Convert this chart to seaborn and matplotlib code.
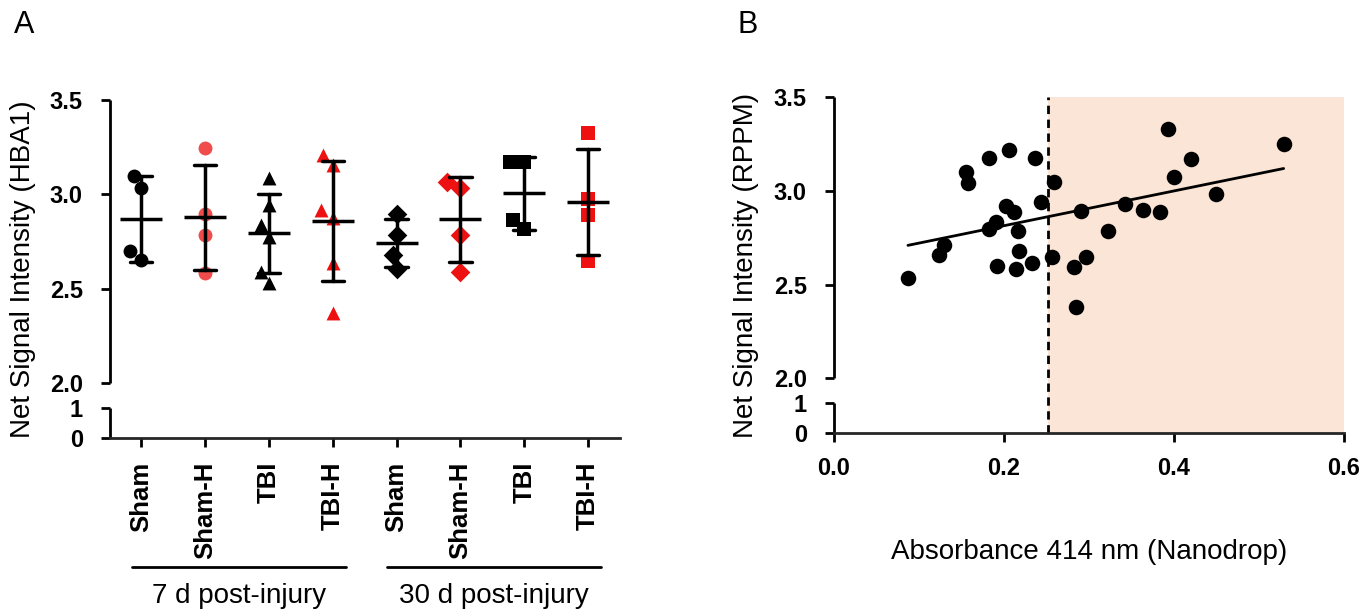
import numpy as np
import pandas as pd
import matplotlib
matplotlib.use("Agg")
import matplotlib.pyplot as plt
import seaborn as sns

sns.set_theme(style="ticks")
plt.rcParams["font.family"] = ["Liberation Sans", "DejaVu Sans"]
plt.rcParams["text.color"] = "black"
plt.rcParams["axes.labelcolor"] = "black"
plt.rcParams["xtick.color"] = "black"
plt.rcParams["ytick.color"] = "black"

# -------------------------
# Panel A data
# -------------------------
groups = ["Sham 7d", "Sham-H 7d", "TBI 7d", "TBI-H 7d",
          "Sham 30d", "Sham-H 30d", "TBI 30d", "TBI-H 30d"]
group_labels = ["Sham", "Sham-H", "TBI", "TBI-H", "Sham", "Sham-H", "TBI", "TBI-H"]
sham_7 = [3.096, 3.033, 2.698, 2.653]
shamh_7 = [3.248, 2.897, 2.786, 2.581]
tbi_7 = [3.089, 2.941, 2.835, 2.773, 2.590, 2.528]
tbih_7 = [3.207, 3.154, 2.919, 2.874, 2.635, 2.369]
sham_30 = [2.897, 2.782, 2.676, 2.605]
shamh_30 = [3.066, 3.036, 2.782, 2.587]
tbi_30 = [3.172, 3.172, 2.862, 2.817]
tbih_30 = [3.323, 2.977, 2.888, 2.649]
timepoints = ["7 d post-injury", "30 d post-injury"]

# -------------------------
# Panel B data
# -------------------------
absorbance = [0.087, 0.124, 0.129, 0.155, 0.158, 0.182, 0.206, 0.236, 0.259, 0.244,
              0.202, 0.212, 0.190, 0.182, 0.216, 0.218, 0.192, 0.214, 0.233, 0.256,
              0.282, 0.296, 0.285, 0.291, 0.322, 0.342, 0.364, 0.384, 0.393, 0.400,
              0.420, 0.449, 0.529]
rppm = [2.536, 2.659, 2.709, 3.098, 3.039, 3.173, 3.217, 3.173, 3.048, 2.942,
        2.920, 2.885, 2.833, 2.797, 2.788, 2.677, 2.597, 2.585, 2.615, 2.647,
        2.594, 2.647, 2.382, 2.894, 2.783, 2.929, 2.899, 2.886, 3.327, 3.076,
        3.168, 2.983, 3.251]
threshold = 0.252

values = [sham_7, shamh_7, tbi_7, tbih_7, sham_30, shamh_30, tbi_30, tbih_30]
df_a = pd.DataFrame({
    "group": np.repeat(groups, [len(v) for v in values]),
    "value": np.concatenate(values),
})
df_b = pd.DataFrame({"absorbance": absorbance, "rppm": rppm})

# styles
markers = ["o", "o", "^", "^", "D", "D", "s", "s"]
colors = ["black", "#f04c4c", "black", "#ee1111", "black", "#ee1111", "black", "#ee1111"]
Y_TICKS = [0, 1, 2, 2.5, 3, 3.5]
Y_TICK_LABELS = ["0", "1", "2.0", "2.5", "3.0", "3.5"]


# broken y axis: 0-1 compressed, gap, 2.0-3.5 expanded
def fwd(y):
    y = np.asarray(y, dtype=float)
    return np.where(y <= 1, y * 30, np.where(y <= 2, 30 + (y - 1) * 25, 55 + (y - 2) * 188.7))


def inv(s):
    s = np.asarray(s, dtype=float)
    return np.where(s <= 30, s / 30, np.where(s <= 55, 1 + (s - 30) / 25, 2 + (s - 55) / 188.7))


def style_broken_y(ax):
    ax.set_yscale("function", functions=(fwd, inv))
    ax.set_ylim(0, 3.5)
    ax.set_yticks(Y_TICKS)
    ax.set_yticklabels(Y_TICK_LABELS, fontweight="bold")
    ax.spines[["top", "right", "left"]].set_visible(False)
    ax.spines["bottom"].set_linewidth(2)
    tr = ax.get_yaxis_transform()
    for lo, hi in [(0, 1), (2, 3.5)]:
        ax.plot([0, 0], [lo, hi], color="black", lw=2, transform=tr,
                clip_on=False, solid_capstyle="butt")
    ax.tick_params(axis="both", direction="out", length=6.5, width=2,
                   labelsize=17, color="black")
    ax.tick_params(axis="y", pad=13)
    ax.tick_params(axis="x", pad=10.5)


fig = plt.figure(figsize=(13.71, 6.12), dpi=100)
W, H = 1371, 612
ax_a = fig.add_axes([110 / W, 1 - 438 / H, 510 / W, 338 / H])
ax_b = fig.add_axes([834 / W, 1 - 433 / H, 510 / W, 336 / H])

# -------------------------
# Panel A
# -------------------------
style_broken_y(ax_a)
for g, m, c in zip(groups, markers, colors):
    sns.swarmplot(data=df_a[df_a["group"] == g], x="group", y="value", order=groups,
                  marker=m, color=c, size=10, linewidth=0, ax=ax_a, zorder=2)
sns.pointplot(data=df_a, x="group", y="value", order=groups, errorbar="sd",
              capsize=0.35, linestyles="none", markers="_", markersize=30,
              markeredgewidth=2.5, color="black", err_kws={"linewidth": 2.5},
              ax=ax_a, zorder=3)
ax_a.set_xlim(-0.49, 7.5)
ax_a.set_xticks(range(len(groups)))
ax_a.set_xticklabels(group_labels, rotation=90, fontweight="bold", fontsize=18.5)
ax_a.set_xlabel("")
ax_a.set_ylabel("Net Signal Intensity (HBA1)", fontsize=20)
ax_a.yaxis.set_label_coords(-0.145, 0.5)

xtr = ax_a.get_xaxis_transform()
for k, label in enumerate(timepoints):
    x0, x1 = 4 * k - 0.15, 4 * k + 3.2
    ax_a.plot([x0, x1], [-0.382, -0.382], color="black", lw=2, transform=xtr, clip_on=False)
    ax_a.text((x0 + x1) / 2, -0.468, label, transform=xtr, ha="center", va="center", fontsize=20)

# -------------------------
# Panel B
# -------------------------
style_broken_y(ax_b)
ax_b.axvspan(threshold, 0.6, color="#fbe5d6", zorder=0, lw=0)
ax_b.axvline(threshold, color="black", ls=(0, (3, 2)), lw=2, zorder=1)
sns.regplot(data=df_b, x="absorbance", y="rppm", ci=None, color="black",
            scatter_kws={"s": 125, "linewidths": 0, "alpha": 1, "zorder": 3},
            line_kws={"lw": 2, "zorder": 2}, ax=ax_b)
ax_b.set_xlim(0, 0.6)
ax_b.set_xticks([0, 0.2, 0.4, 0.6])
ax_b.set_xticklabels(["0.0", "0.2", "0.4", "0.6"], fontweight="bold")
ax_b.set_xlabel("Absorbance 414 nm (Nanodrop)", fontsize=20)
ax_b.xaxis.set_label_coords(0.5, -0.315)
ax_b.set_ylabel("Net Signal Intensity (RPPM)", fontsize=20)
ax_b.yaxis.set_label_coords(-0.147, 0.5)

fig.text(24 / W, 1 - 25 / H, "A", ha="center", va="center", fontsize=22)
fig.text(748 / W, 1 - 25 / H, "B", ha="center", va="center", fontsize=22)

fig.savefig("out.png", dpi=100)
